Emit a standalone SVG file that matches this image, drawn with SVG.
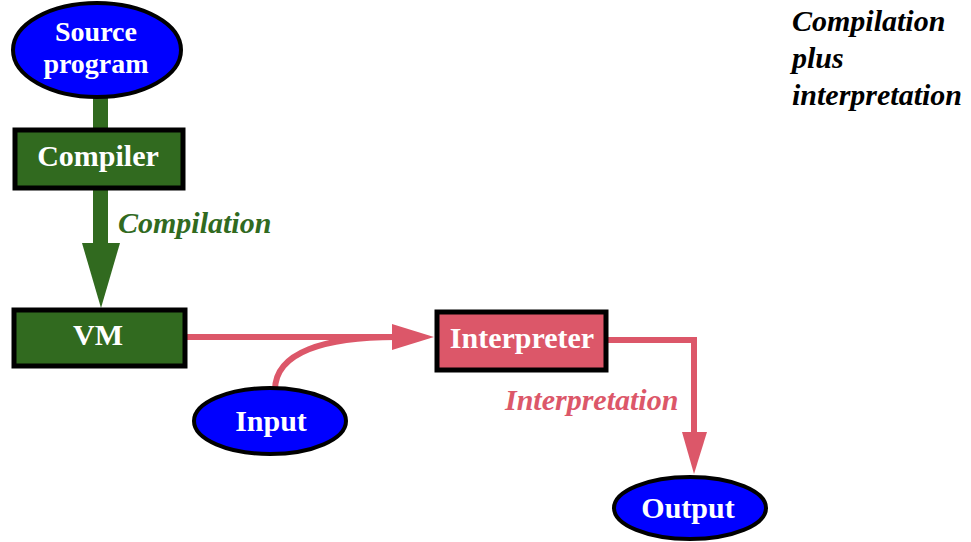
<svg xmlns="http://www.w3.org/2000/svg" width="971" height="542" viewBox="0 0 971 542">
<style>
.lbl{font-family:"Liberation Serif","Times New Roman",serif;font-weight:bold;font-size:30px;fill:#fff;text-anchor:middle}
.src{font-size:28px}
.it{font-family:"Liberation Serif","Times New Roman",serif;font-weight:bold;font-style:italic;font-size:30px}
.ell{fill:#0000ff;stroke:#000;stroke-width:4}
.gbox{fill:#316a1f;stroke:#000;stroke-width:5}
.rbox{fill:#dc5769;stroke:#000;stroke-width:5}
.red{fill:none;stroke:#dc5769;stroke-width:6}
</style>
<rect width="971" height="542" fill="#fff"/>
<g id="connectors">
  <rect x="93" y="96" width="15" height="34" fill="#316a1f"/>
  <rect x="93" y="188" width="15" height="58" fill="#316a1f"/>
  <polygon points="82,243 120,243 101,308" fill="#316a1f"/>
  <line class="red" x1="187" y1="337" x2="396" y2="337"/>
  <path class="red" d="M275,390 C275,352 325,337 396,337"/>
  <polygon points="392,324 434,337 392,350" fill="#dc5769"/>
  <polyline class="red" points="608,340 694,340 694,436"/>
  <polygon points="682,432 707,432 694,474" fill="#dc5769"/>
</g>
<g id="source">
  <ellipse class="ell" cx="97" cy="50" rx="84" ry="47"/>
  <text class="lbl src" x="96" y="41">Source</text>
  <text class="lbl src" x="96" y="73">program</text>
</g>
<g id="compiler">
  <rect class="gbox" x="15" y="130" width="168" height="58"/>
  <text class="lbl" x="98" y="166">Compiler</text>
</g>
<g id="vm">
  <rect class="gbox" x="14" y="310" width="171" height="56"/>
  <text class="lbl" x="98" y="345">VM</text>
</g>
<g id="interpreter">
  <rect class="rbox" x="437" y="312" width="169" height="58"/>
  <text class="lbl" x="522" y="348">Interpreter</text>
</g>
<g id="input">
  <ellipse class="ell" cx="270" cy="421" rx="76" ry="33"/>
  <text class="lbl" x="271" y="431">Input</text>
</g>
<g id="output">
  <ellipse class="ell" cx="690" cy="508" rx="76" ry="31"/>
  <text class="lbl" x="688" y="518">Output</text>
</g>
<text class="it" x="118" y="233" fill="#316a1f">Compilation</text>
<text class="it" x="505" y="410" fill="#dc5769">Interpretation</text>
<g id="title" class="it" fill="#000">
  <text x="792" y="31">Compilation</text>
  <text x="792" y="68">plus</text>
  <text x="792" y="105">interpretation</text>
</g>
</svg>
